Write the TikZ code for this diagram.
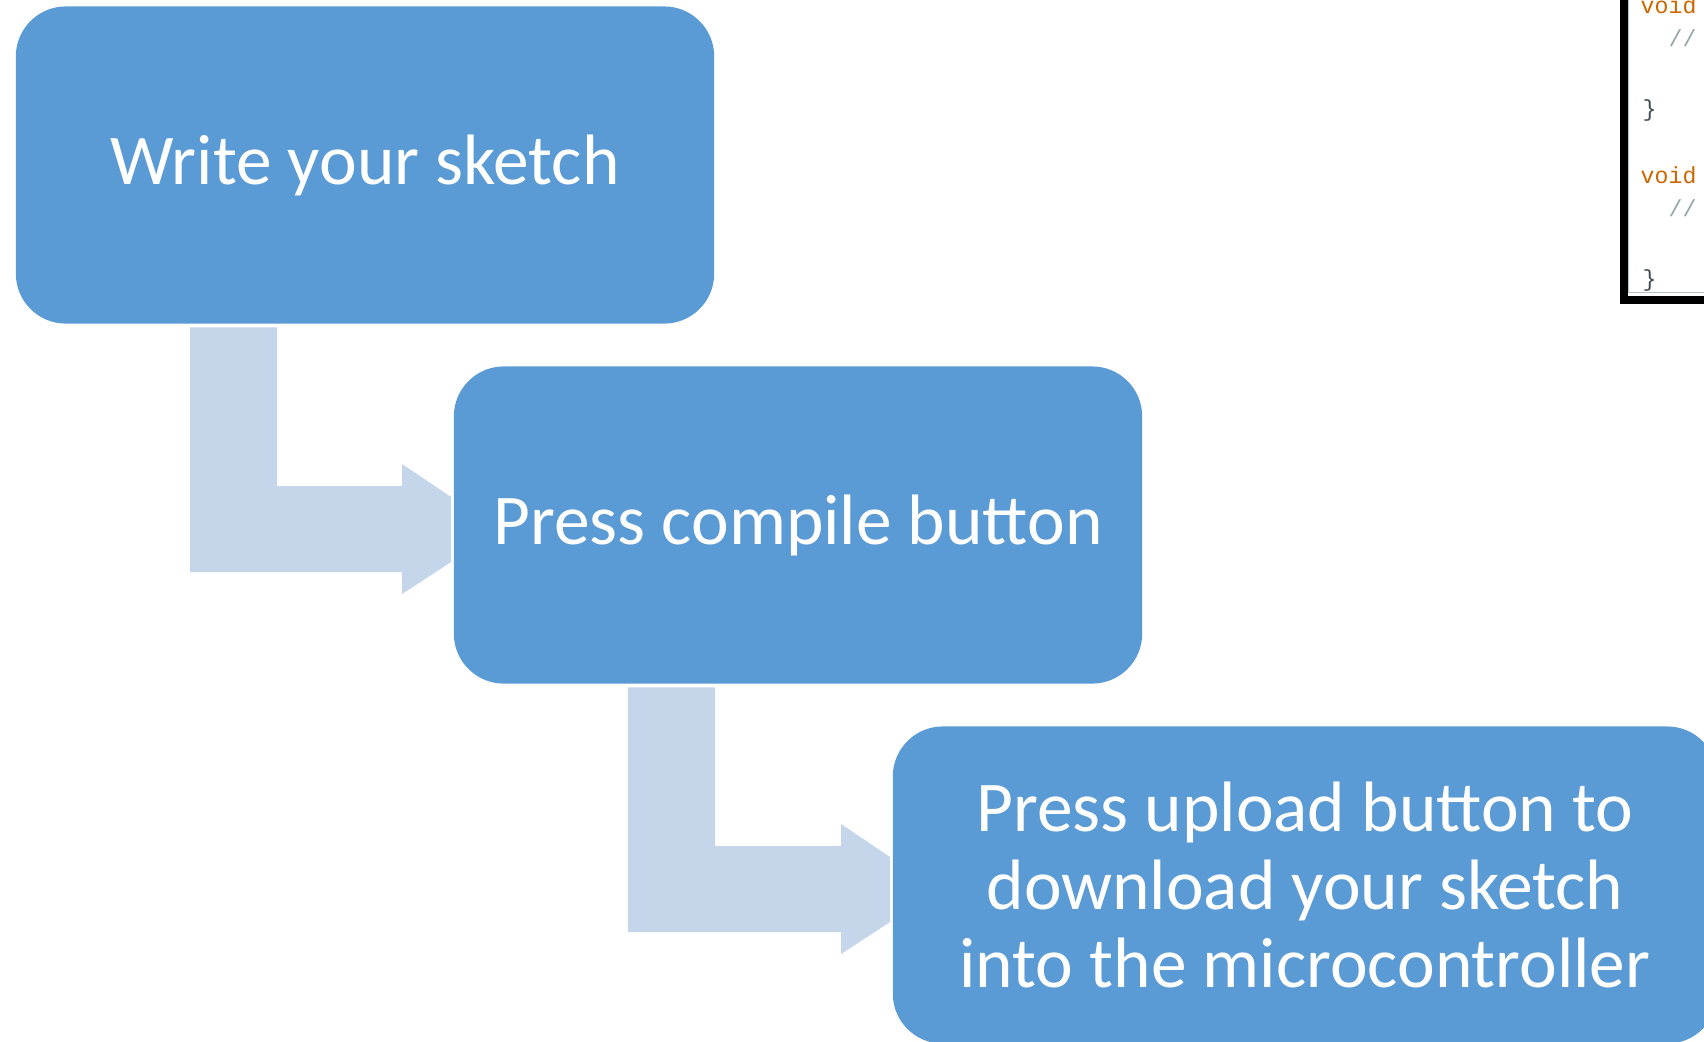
\documentclass[tikz,border=0pt]{standalone}
\usepackage{fontspec}
\setmainfont{Carlito}
\newfontfamily\codefont{Liberation Mono}
\usetikzlibrary{calc}
\definecolor{boxblue}{RGB}{91,155,213}
\definecolor{flowblue}{RGB}{197,213,234}
\definecolor{kwordorange}{RGB}{204,102,0}
\definecolor{commentgray}{RGB}{149,165,166}
\definecolor{bracegray}{RGB}{67,79,84}
\begin{document}
\begin{tikzpicture}[
  x=0.01cm, y=-0.01cm,
  stepbox/.style={rectangle, rounded corners=0.5cm, fill=boxblue, text=white, align=center,
    minimum height=3.17cm, inner sep=0pt, font=\fontsize{20.3}{22.2}\selectfont},
  bent/.style={fill=flowblue},
  code/.style={anchor=base west, inner sep=0pt, font=\codefont\fontsize{6.6}{7}\selectfont}
]
\clip (0,0) rectangle (1704,1041);

% steps
\node[stepbox, minimum width=6.98cm] (write) at (365,165) {Write your sketch};
\node[stepbox, minimum width=6.88cm] (compile) at (798,525) {Press compile button};
\node[stepbox, minimum width=8.24cm] (upload) at (1305,885)
  {Press upload button to\\download your sketch\\into the microcontroller};

% bent arrows between the steps, the head cut flat
\foreach \a/\b in {write/compile, compile/upload} {
  \coordinate (top) at ($(\a.south west)+(175,3)$);
  \coordinate (tip) at ($(\b.west)+(-2,4)$);
  \fill[bent] (top) -- ($(top)+(87,0)$) -- ($(top |- tip)+(87,-43)$)
    -- ($(tip)+(-49,-43)$) -- ($(tip)+(-49,-65)$) -- ($(tip)+(0,-32)$)
    -- ($(tip)+(0,33)$) -- ($(tip)+(-49,65)$) -- ($(tip)+(-49,43)$)
    -- ($(top |- tip)+(0,43)$) -- cycle;
}

% code window, cut off at the corner
\draw[commentgray!70, line width=0.01cm] (1628.5,-10) -- (1628.5,292.5) -- (1720,292.5);
\draw[line width=0.08cm] (1623.5,-10) -- (1623.5,299.5) -- (1720,299.5);
\node[code, text=kwordorange] (void1) at (1640,13) {void};
\node[code, text=commentgray] (note1) at (1668,46) {//};
\node[code, text=bracegray] (brace1) at (1642,116) {\}};
\node[code, text=kwordorange] (void2) at (1640,183) {void};
\node[code, text=commentgray] (note2) at (1668,216) {//};
\node[code, text=bracegray] (brace2) at (1642,286) {\}};
\end{tikzpicture}
\end{document}
